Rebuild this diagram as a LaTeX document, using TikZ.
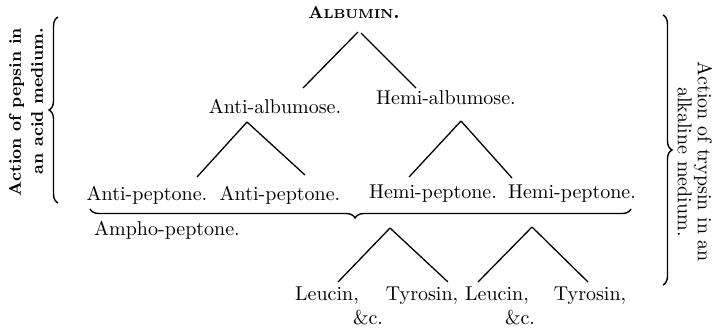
\documentclass[tikz,border=0pt]{standalone}
\usepackage{tikz}
\usetikzlibrary{calc,decorations.pathreplacing}

\begin{document}
\begin{tikzpicture}[x=0.5pt,y=-0.5pt,every node/.style={font=\fontsize{10}{12}\selectfont,inner sep=1pt}]
  \tikzset{twig/.style={line width=0.65pt},
           brc/.style={decorate,decoration={brace,amplitude=4.5pt},line width=0.7pt}}
  \useasboundingbox (0,0) rectangle (717,328);
  \node[font=\bfseries] (alb) at (354,13) {{\fontsize{8.5}{10}\selectfont A}{\fontsize{6.5}{8}\selectfont LBUMIN}.};
  \node (aalb) at (275,106) {Anti-albumose.};
  \node (halb) at (446,98) {Hemi-albumose.};
  \node (ap1) at (147,195) {Anti-peptone.};
  \node (ap2) at (280,195) {Anti-peptone.};
  \node (hp1) at (433,194) {Hemi-peptone.};
  \node (hp2) at (572,194) {Hemi-peptone.};
  \node (ampho) at (167,230) {Ampho-peptone.};
  \node (leu1) at (327,296) {Leucin,};
  \node (tyr1) at (422,296) {Tyrosin,};
  \node (leu2) at (497,296) {Leucin,};
  \node (tyr2) at (590,296) {Tyrosin,};
  \node (etc1) at (368,318) {\&c.};
  \node (etc2) at (520,318) {\&c.};
  \node[rotate=90,align=right,font=\bfseries\fontsize{8.5}{11}\selectfont] (pep) at (26,112) {Action of pepsin in\\an acid medium.};
  \node[rotate=-90,align=center,font=\fontsize{10}{8.5}\selectfont] (tryp) at (695,162) {Action of trypsin in an\\alkaline medium.};
  \draw[twig] ($(alb.center)+(4,19)$) -- ($(aalb.center)+(28,-18)$);
  \draw[twig] ($(alb.center)+(7,20)$) -- ($(halb.center)+(-30,-10)$);
  \draw[twig] ($(aalb.center)+(-28,16)$) -- ($(ap1.center)+(50,-18)$);
  \draw[twig] ($(aalb.center)+(-28,16)$) -- ($(ap2.center)+(25,-20)$);
  \draw[twig] ($(halb.center)+(15,23)$) -- ($(hp1.center)+(-24,-17)$);
  \draw[twig] ($(halb.center)+(15,23)$) -- ($(hp2.center)+(-60,-16)$);
  \draw[twig] ($(hp1.center)+(-43,34)$) -- ($(leu1.center)+(11,-14)$);
  \draw[twig] ($(hp1.center)+(-43,34)$) -- ($(tyr1.center)+(26,-14)$);
  \draw[twig] ($(hp2.center)+(-40,33)$) -- ($(leu2.center)+(-19,-14)$);
  \draw[twig] ($(hp2.center)+(-40,33)$) -- ($(tyr2.center)+(-2,-14)$);
  \draw[brc] (58,203) -- (58,17);
  \draw[brc] (663,15) -- (663,285);
  \draw[brc,decoration={aspect=0.51}] (631,209) -- (90,209);
\end{tikzpicture}
\end{document}
